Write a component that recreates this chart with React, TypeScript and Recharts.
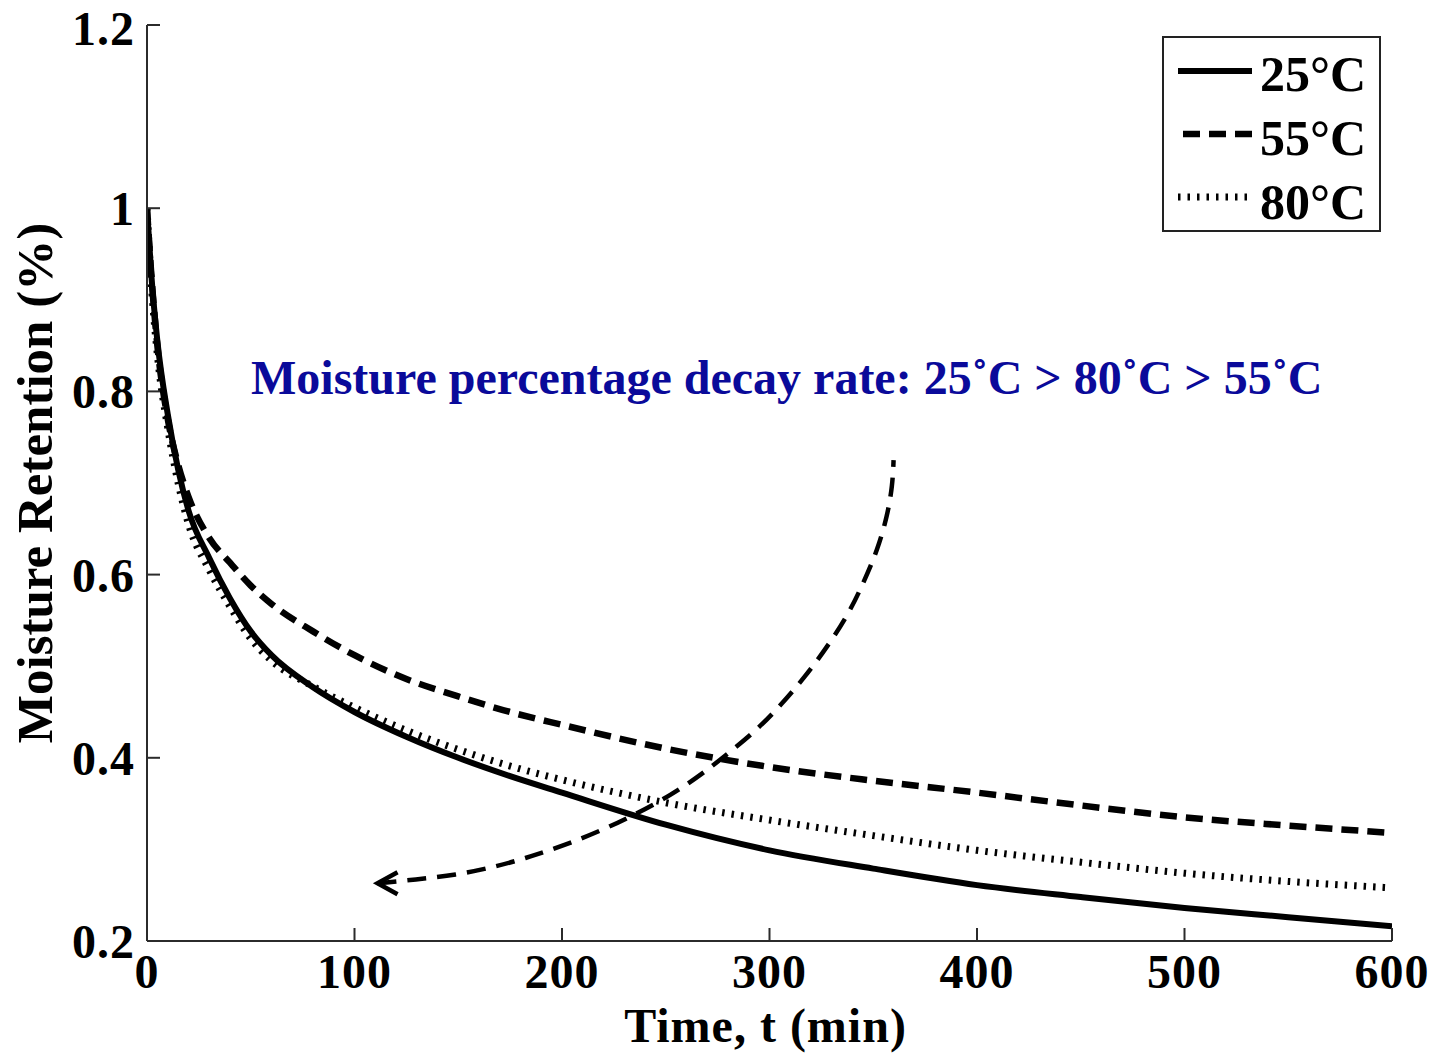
import React from 'react';
import { LineChart, Line, XAxis, YAxis, Legend, Customized } from 'recharts';

// Drying time (min) and moisture retention for each temperature
const times = [0, 2, 5, 10, 15, 20, 30, 40, 50, 60, 80, 100, 125, 150, 175, 200, 250, 300, 350, 400, 450, 500, 550, 600];
const retention25 = [1.0, 0.93, 0.855, 0.775, 0.715, 0.67, 0.618, 0.574, 0.538, 0.512, 0.477, 0.45, 0.423, 0.4, 0.38, 0.362, 0.327, 0.299, 0.279, 0.261, 0.248, 0.236, 0.226, 0.216];
const retention55 = [1.0, 0.93, 0.85, 0.77, 0.72, 0.685, 0.64, 0.613, 0.588, 0.568, 0.538, 0.512, 0.486, 0.467, 0.45, 0.436, 0.41, 0.39, 0.375, 0.362, 0.348, 0.335, 0.326, 0.318];
const retention80 = [1.0, 0.92, 0.84, 0.76, 0.7, 0.655, 0.605, 0.565, 0.53, 0.506, 0.478, 0.455, 0.43, 0.409, 0.391, 0.376, 0.351, 0.332, 0.315, 0.299, 0.286, 0.274, 0.265, 0.258];

// Curved annotation arrow, in data coordinates (tip first)
const arrowTimes = [111.1, 129.4, 148.7, 168.0, 184.8, 201.7, 219.5, 236.9, 252.3, 266.8, 280.2, 293.7, 305.3, 317.4, 328.4, 338.1, 345.3, 352.1, 356.9, 359.3, 359.8];
const arrowLevels = [0.263, 0.267, 0.272, 0.281, 0.292, 0.305, 0.321, 0.34, 0.359, 0.381, 0.405, 0.43, 0.457, 0.489, 0.523, 0.557, 0.591, 0.627, 0.665, 0.698, 0.725];

const xTicks = [0, 100, 200, 300, 400, 500, 600];
const yTicks = [0.2, 0.4, 0.6, 0.8, 1, 1.2];
const seriesNames = ['25°C', '55°C', '80°C'];
const annotationText = 'Moisture percentage decay rate: 25˚C > 80˚C > 55˚C';

const rows = times.map((t, i) => ({ t, r25: retention25[i], r55: retention55[i], r80: retention80[i] }));
const arrowRows = arrowTimes.map((t, i) => ({ t, level: arrowLevels[i] }));

const FONT = '"Liberation Serif", "Times New Roman", serif';
const AXIS_COLOR = '#2b2b2b';

const seriesStyles = [
  { key: 'r25', width: 6, dash: undefined as string | undefined },
  { key: 'r55', width: 6.5, dash: '17 9' },
  { key: 'r80', width: 7, dash: '2.5 7' },
];

const ArrowHead = (props: any) => {
  const { cx, cy, index } = props;
  if (index !== 0 || cx == null || cy == null) return <g key={`ah-${index}`} />;
  return (
    <path
      key="ah"
      d={`M${cx + 20},${cy - 11} L${cx},${cy} L${cx + 20},${cy + 11}`}
      fill="none"
      stroke="#000"
      strokeWidth={4.5}
    />
  );
};

const LegendBox = () => (
  <div
    style={{
      width: 219,
      height: 196,
      border: '2px solid #222',
      background: '#fff',
      boxSizing: 'border-box',
    }}
  >
    <svg width={215} height={192} style={{ display: 'block' }}>
      {seriesNames.map((name, i) => {
        const s = seriesStyles[i];
        const lineY = 33 + i * 63;
        const baseY = 53 + i * 64;
        return (
          <g key={name}>
            <line
              x1={i === 1 ? 19 : 14}
              x2={88}
              y1={lineY}
              y2={lineY}
              stroke="#000"
              strokeWidth={s.width}
              strokeDasharray={s.dash}
            />
            <text x={96} y={baseY} fontFamily={FONT} fontWeight="bold" fontSize={50} fill="#000">
              {name}
            </text>
          </g>
        );
      })}
    </svg>
  </div>
);

const Annotation = () => (
  <text x={251} y={394} fontFamily={FONT} fontWeight="bold" fontSize={48} fill="#0a0a9a">
    {annotationText}
  </text>
);

const tickStyle = { fill: '#000', fontFamily: FONT, fontWeight: 'bold', fontSize: 48, letterSpacing: 1 };

export default function App() {
  return (
    <div style={{ position: 'absolute', left: 0, top: 0, width: 1439, height: 1053, background: '#fff' }}>
      <LineChart width={1439} height={1053} data={rows} margin={{ top: 25, right: 47, bottom: 0, left: 0 }}>
        <XAxis
          dataKey="t"
          type="number"
          domain={[0, 600]}
          ticks={xTicks}
          height={112}
          stroke={AXIS_COLOR}
          strokeWidth={2}
          tickSize={-13}
          tickMargin={26}
          tick={tickStyle}
          allowDataOverflow
          label={{
            content: (p: any) => {
              const vb = p.viewBox || { x: 147, y: 941, width: 1245, height: 112 };
              return (
                <text
                  x={vb.x + vb.width / 2 - 4}
                  y={1042}
                  textAnchor="middle"
                  fontFamily={FONT}
                  fontWeight="bold"
                  fontSize={48}
                  letterSpacing={1}
                  fill="#000"
                >
                  Time, t (min)
                </text>
              );
            },
          }}
        />
        <YAxis
          type="number"
          domain={[0.2, 1.2]}
          ticks={yTicks}
          width={147}
          stroke={AXIS_COLOR}
          strokeWidth={2}
          tickSize={-13}
          tickMargin={25}
          tick={tickStyle}
          allowDataOverflow
          label={{
            content: (p: any) => {
              const vb = p.viewBox || { x: 0, y: 25, width: 147, height: 916 };
              const cx = 35;
              const cy = vb.y + vb.height / 2;
              return (
                <text
                  x={cx}
                  y={cy}
                  transform={`rotate(-90, ${cx}, ${cy})`}
                  textAnchor="middle"
                  dominantBaseline="central"
                  fontFamily={FONT}
                  fontWeight="bold"
                  fontSize={51}
                  fill="#000"
                >
                  Moisture Retention (%)
                </text>
              );
            },
          }}
        />
        {seriesStyles.map((s) => (
          <Line
            key={s.key}
            type="monotone"
            dataKey={s.key}
            stroke="#000"
            strokeWidth={s.width}
            strokeDasharray={s.dash}
            dot={false}
            activeDot={false}
            isAnimationActive={false}
          />
        ))}
        <Line
          data={arrowRows}
          type="basis"
          dataKey="level"
          stroke="#000"
          strokeWidth={4.5}
          strokeDasharray="19 11"
          dot={ArrowHead}
          activeDot={false}
          isAnimationActive={false}
          legendType="none"
        />
        <Legend
          layout="horizontal"
          verticalAlign="middle"
          align="center"
          wrapperStyle={{ left: 1162, top: 36, width: 219, height: 196 }}
          content={() => <LegendBox />}
        />
        <Customized component={Annotation} />
      </LineChart>
    </div>
  );
}
